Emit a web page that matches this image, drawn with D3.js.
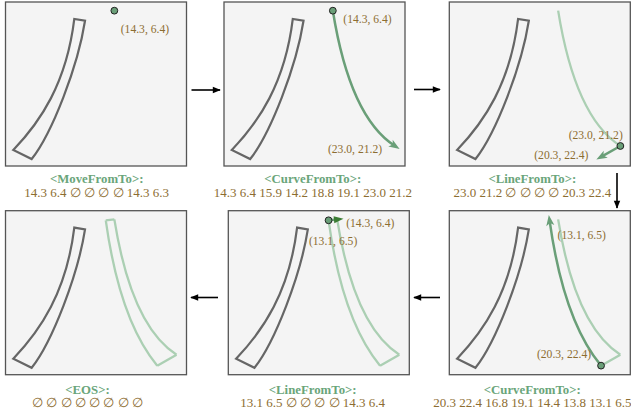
<!DOCTYPE html>
<html><head><meta charset="utf-8">
<script src="https://cdn.jsdelivr.net/npm/d3@7"></script>
<style>body{margin:0;background:#fff}svg{display:block}</style>
</head><body><svg id="c" width="631" height="414"></svg>
<script>
// ---- data ----
const commands = ["<MoveFromTo>", "<CurveFromTo>", "<LineFromTo>", "<CurveFromTo>", "<LineFromTo>", "<EOS>"];
const kinds = ["move", "curve", "line", "curve", "line", "eos"];
const row0 = [14.3, 6.4, null, null, null, null, 14.3, 6.3];
const row1 = [14.3, 6.4, 15.9, 14.2, 18.8, 19.1, 23.0, 21.2];
const row2 = [23.0, 21.2, null, null, null, null, 20.3, 22.4];
const row3 = [20.3, 22.4, 16.8, 19.1, 14.4, 13.8, 13.1, 6.5];
const row4 = [13.1, 6.5, null, null, null, null, 14.3, 6.4];
const row5 = [null, null, null, null, null, null, null, null];
const values = [row0, row1, row2, row3, row4, row5];
// previously drawn stroke (grey)
const prevStroke = [
  ["M", 10.2, 7.5],
  ["C", 9.2, 12.5, 5.6, 19.8, 2.74, 22.63],
  ["L", 0.17, 21.64],
  ["C", 3.9, 18.6, 7.6, 14.4, 8.7, 7.3],
  ["Z"]
];
const xDomain = [-0.92, 24.39];
const yDomain = [5.45, 23.39];

// ---- layout ----
const W = 181, H = 164;
const panelPos = [[5.5, 2], [224, 2], [449.3, 2], [449.3, 210.7], [228.3, 210.7], [5.5, 210.7]];
const captionX = [96.7, 312.8, 532.3, 532.3, 312.7, 87.5];
const captionY = [[182.5, 197], [182.5, 197], [182.5, 197], [393.5, 407], [393.5, 407], [393.5, 407]];
const labelCfg = [
  [{p: "from", dx: 6.4, dy: 18.3, a: "start"}],
  [{p: "from", dx: 10.5, dy: 8.3, a: "start"}, {p: "to", dx: -13, dy: 3, a: "end"}],
  [{p: "from", dx: 2.4, dy: -11, a: "end"}, {p: "to", dx: -12.7, dy: -2, a: "end"}],
  [{p: "from", dx: -10, dy: -11.6, a: "end"}, {p: "to", dx: 8, dy: 14.7, a: "start"}],
  [{p: "from", dx: -19.6, dy: 20.7, a: "start"}, {p: "to", dx: 9, dy: 3.3, a: "start"}],
  []
];
const flowArrows = [
  [191.5, 90, 220, 90], [414, 89.5, 440, 89.5], [617, 173, 617, 208],
  [440, 297.5, 414, 297.5], [218, 297.5, 191, 297.5]
];

const GREEN = "#6a9f78", FADED = "#abcfb3", GREY = "#666", BROWN = "#8c6d31", TITLE = "#6aa57a";

const svg = d3.select("#c");
const defs = svg.append("defs");
defs.append("marker").attr("id", "ah").attr("viewBox", "0 -5 12 10")
  .attr("markerUnits", "userSpaceOnUse").attr("markerWidth", 13).attr("markerHeight", 9)
  .attr("refX", 6).attr("refY", 0).attr("orient", "auto")
  .append("path").attr("d", "M0,-4.5L12,0L0,4.5L3,0Z").attr("fill", GREEN);
defs.append("marker").attr("id", "ahd").attr("viewBox", "0 -5 12 10")
  .attr("markerUnits", "userSpaceOnUse").attr("markerWidth", 11).attr("markerHeight", 8)
  .attr("refX", 4).attr("refY", 0).attr("orient", "auto")
  .append("path").attr("d", "M0,-4.5L12,0L0,4.5Z").attr("fill", "#3b7d34");
defs.append("marker").attr("id", "fa").attr("viewBox", "0 -5 10 10")
  .attr("markerUnits", "userSpaceOnUse").attr("markerWidth", 10).attr("markerHeight", 8)
  .attr("refX", 9).attr("refY", 0).attr("orient", "auto")
  .append("path").attr("d", "M0,-4L10,0L0,4Z").attr("fill", "#000");

const x = d3.scaleLinear().domain(xDomain).range([0, W]);
const y = d3.scaleLinear().domain(yDomain).range([0, H]);

function segPath(v, kind, p) {
  p = p || d3.path();
  p.moveTo(x(v[0]), y(v[1]));
  if (kind === "curve") p.bezierCurveTo(x(v[2]), y(v[3]), x(v[4]), y(v[5]), x(v[6]), y(v[7]));
  else if (kind === "line") p.lineTo(x(v[6]), y(v[7]));
  return p;
}
function prevPath() {
  const p = d3.path();
  prevStroke.forEach(c => {
    if (c[0] === "M") p.moveTo(x(c[1]), y(c[2]));
    else if (c[0] === "L") p.lineTo(x(c[1]), y(c[2]));
    else if (c[0] === "C") p.bezierCurveTo(x(c[1]), y(c[2]), x(c[3]), y(c[4]), x(c[5]), y(c[6]));
    else p.closePath();
  });
  return p.toString();
}
const fmt = d3.format(".1f");
const FONT = "Liberation Serif, Times New Roman, serif";

commands.forEach((cmd, i) => {
  const [px, py] = panelPos[i];
  const g = svg.append("g").attr("transform", `translate(${px},${py})`);
  g.append("rect").attr("width", W).attr("height", H).attr("fill", "#f4f4f4")
    .attr("stroke", "#555").attr("stroke-width", 1.3);
  g.append("path").attr("d", prevPath()).attr("fill", "none").attr("stroke", GREY)
    .attr("stroke-width", 2.2).attr("stroke-linejoin", "miter");
  // faded earlier segments
  const fp = d3.path();
  let any = false;
  for (let j = 0; j < i; j++) {
    if (kinds[j] === "curve" || kinds[j] === "line") { segPath(values[j], kinds[j], fp); any = true; }
  }
  if (any) g.append("path").attr("d", fp.toString()).attr("fill", "none").attr("stroke", FADED)
    .attr("stroke-width", 2.3).attr("stroke-linejoin", "miter");
  const v = values[i], k = kinds[i];
  if (k === "curve" || k === "line") {
    const short = Math.hypot(x(v[6]) - x(v[0]), y(v[7]) - y(v[1])) < 15;
    g.append("path").attr("d", segPath(v, k).toString()).attr("fill", "none")
      .attr("stroke", GREEN).attr("stroke-width", 2.5)
      .attr("marker-end", short ? "url(#ahd)" : "url(#ah)");
  }
  if (k !== "eos") {
    g.append("circle").attr("cx", x(v[0])).attr("cy", y(v[1])).attr("r", 3.4)
      .attr("fill", GREEN).attr("stroke", "#222").attr("stroke-width", 1);
  }
  labelCfg[i].forEach(l => {
    const vx = l.p === "from" ? v[0] : v[6], vy = l.p === "from" ? v[1] : v[7];
    g.append("text").attr("x", x(vx) + l.dx).attr("y", y(vy) + l.dy).attr("dy", "0.35em")
      .attr("text-anchor", l.a).attr("fill", BROWN)
      .attr("font-family", FONT).attr("font-size", 11.6)
      .text(`(${fmt(vx)}, ${fmt(vy)})`);
  });
  // captions
  svg.append("text").attr("x", captionX[i]).attr("y", captionY[i][0]).attr("text-anchor", "middle")
    .attr("fill", TITLE).attr("font-weight", "bold")
    .attr("font-family", FONT).attr("font-size", 12.8)
    .text(cmd + ":");
  svg.append("text").attr("x", captionX[i]).attr("y", captionY[i][1]).attr("text-anchor", "middle")
    .attr("fill", BROWN)
    .attr("font-family", FONT).attr("font-size", 13)
    .text(v.map(d => d === null ? "\u2205" : fmt(d)).join(" "));
});

flowArrows.forEach(a => {
  svg.append("line").attr("x1", a[0]).attr("y1", a[1]).attr("x2", a[2]).attr("y2", a[3])
    .attr("stroke", "#000").attr("stroke-width", 1.6).attr("marker-end", "url(#fa)");
});
</script></body></html>
